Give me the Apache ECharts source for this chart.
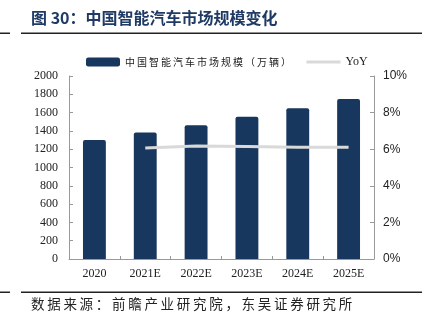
<!DOCTYPE html>
<html><head><meta charset="utf-8">
<script src="https://cdn.jsdelivr.net/npm/echarts@6/dist/echarts.min.js"></script>
<style>html,body{margin:0;padding:0;background:#fff}#c{width:428px;height:323px}</style>
</head><body><div id="c"></div>
<script>
const categories = ['2020','2021E','2022E','2023E','2024E','2025E'];
const marketSize = [1300, 1383, 1463, 1555, 1648, 1748];
const yoy = [null, 6.06, 6.17, 6.15, 6.1, 6.1];
const leftTicks = [0, 2000, 200];
const rightTicks = [0, 10, 2];

const sp = s => s.split('').join('\u2009');
const chart = echarts.init(document.getElementById('c'));
const navy = '#17375E';
const barName = '中国智能汽车市场规模（万辆）';
chart.setOption({
  animation: false,
  graphic: [
    {type:'text', left: 31, top: 10, style:{text:'图 30：中国智能汽车市场规模变化', font:'bold 16px "Noto Sans CJK SC"', fill:'#1F3A64'}},
    {type:'rect', shape:{x:21,y:32.5,width:401,height:1.5}, style:{fill:'#222'}},
    {type:'rect', shape:{x:0,y:32.5,width:10,height:1.5}, style:{fill:'#222'}},
    {type:'rect', shape:{x:21,y:291.5,width:401,height:1.5}, style:{fill:'#222'}},
    {type:'rect', shape:{x:0,y:291.5,width:10,height:1.5}, style:{fill:'#222'}},
    {type:'text', left: 31, top: 297, style:{text:sp('数据来源：前瞻产业研究院，东吴证券研究所'), font:'13.5px "Noto Sans CJK SC"', fill:'#222'}}
  ],
  legend: {
    top: 51, left: 81, itemGap: 14, itemWidth: 34, itemHeight: 9,
    textStyle: {fontFamily:'"Noto Sans CJK SC"', fontSize: 10, color:'#222'},
    formatter: n => n === barName ? sp(n) : n,
    data: [
      {name:barName, icon:'roundRect'},
      {name:'YoY', itemStyle:{opacity:0}, lineStyle:{width:3, color:'#D9D9D9'}, textStyle:{fontFamily:'"Liberation Serif"', fontSize:12}}
    ]
  },
  grid: {left: 69, right: 54, top: 76, bottom: 64},
  xAxis: {
    type:'category', data: categories,
    axisLine:{lineStyle:{color:'#999'}},
    axisTick:{show:true, inside:true, length:3, lineStyle:{color:'#999'}},
    axisLabel:{fontFamily:'"Liberation Serif"', fontSize:12, color:'#222', margin:9}
  },
  yAxis: [
    {type:'value', min:leftTicks[0], max:leftTicks[1], interval:leftTicks[2],
     axisLine:{show:true, lineStyle:{color:'#999'}},
     axisTick:{show:true, inside:true, length:4, lineStyle:{color:'#999'}},
     splitLine:{show:false},
     axisLabel:{fontFamily:'"Liberation Serif"', fontSize:12, color:'#222', margin:11, formatter: v => String(v)}},
    {type:'value', min:rightTicks[0], max:rightTicks[1], interval:rightTicks[2],
     axisLine:{show:true, lineStyle:{color:'#999'}},
     axisTick:{show:true, inside:true, length:4, lineStyle:{color:'#999'}},
     splitLine:{show:false},
     axisLabel:{fontFamily:'"Liberation Sans"', fontSize:12, color:'#222', margin:9, formatter:'{value}%'}}
  ],
  series: [
    {name:barName, type:'bar', data: marketSize, barWidth:'45%',
     itemStyle:{color:navy, borderRadius:[2,2,0,0]}},
    {name:'YoY', type:'line', yAxisIndex:1, data: yoy, symbol:'none',
     lineStyle:{color:'#D9D9D9', width:3}, itemStyle:{color:'#D9D9D9'}}
  ]
});
</script></body></html>
